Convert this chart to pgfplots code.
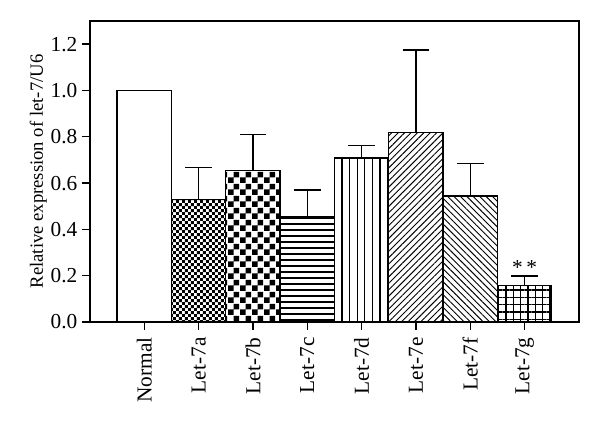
\documentclass[border=0pt]{standalone}
\usepackage{fontspec}
\setmainfont{Liberation Serif}
\usepackage{pgfplots}
\pgfplotsset{compat=1.18}
\usetikzlibrary{patterns,patterns.meta}

% checkerboards of two sizes
\pgfdeclarepatternformonly{checkfine}{\pgfpointorigin}{\pgfpoint{4.4pt}{4.4pt}}{\pgfpoint{4.4pt}{4.4pt}}{%
  \pgfpathrectangle{\pgfpointorigin}{\pgfpoint{2.2pt}{2.2pt}}%
  \pgfpathrectangle{\pgfpoint{2.2pt}{2.2pt}}{\pgfpoint{2.2pt}{2.2pt}}%
  \pgfusepath{fill}}
\pgfdeclarepatternformonly{checkcoarse}{\pgfpointorigin}{\pgfpoint{9pt}{9pt}}{\pgfpoint{9pt}{9pt}}{%
  \pgfpathrectangle{\pgfpointorigin}{\pgfpoint{4.5pt}{4.5pt}}%
  \pgfpathrectangle{\pgfpoint{4.5pt}{4.5pt}}{\pgfpoint{4.5pt}{4.5pt}}%
  \pgfusepath{fill}}

\begin{document}
\begin{tikzpicture}
  \begin{axis}[
    scale only axis,
    width=366.75pt, height=225.75pt,
    xmin=-1, xmax=8, ymin=0, ymax=1.3,
    ybar, bar width=1, bar shift=0pt,
    axis line style={line width=1pt},
    tick style={line width=1pt, black},
    major tick length=6pt,
    tick align=outside, tick pos=left,
    xtick={0,...,7},
    xticklabels={Normal,Let-7a,Let-7b,Let-7c,Let-7d,Let-7e,Let-7f,Let-7g},
    x tick label style={rotate=90, anchor=east, xshift=-2pt},
    ytick={0,0.2,...,1.2},
    yticklabel style={/pgf/number format/.cd, fixed, fixed zerofill, precision=1},
    /pgf/number format/assume math mode=true,
    tick label style={font=\fontsize{16}{18}\selectfont},
    ylabel={Relative expression of let-7/U6},
    ylabel style={font=\fontsize{14}{16}\selectfont, yshift=-4pt},
    every axis plot/.append style={draw=black, line width=1pt},
    error bars/y dir=plus, error bars/y explicit,
    error bars/error mark options={rotate=90, mark size=10pt, line width=1.1pt},
    error bars/error bar style={line width=1.1pt},
  ]
    \addplot[fill=white] coordinates {(0,1.0)};
    \addplot[pattern=checkfine] coordinates {(1,0.530) +- (0,0.138)};
    \addplot[pattern=checkcoarse] coordinates {(2,0.653) +- (0,0.157)};
    \addplot[pattern={Lines[angle=0,distance=4.5pt,line width=0.8pt]}] coordinates {(3,0.453) +- (0,0.118)};
    \addplot[pattern={Lines[angle=90,distance=5.7pt,line width=0.8pt]}] coordinates {(4,0.709) +- (0,0.053)};
    \addplot[pattern={Lines[angle=45,distance=3.4pt,line width=0.7pt]}] coordinates {(5,0.819) +- (0,0.355)};
    \addplot[pattern={Lines[angle=-45,distance=3.4pt,line width=0.7pt]}] coordinates {(6,0.544) +- (0,0.141)};
    \addplot[pattern={Hatch[angle=0,distance=5.5pt,line width=0.8pt]}] coordinates {(7,0.157) +- (0,0.042)};
    \node[anchor=south, font=\fontsize{16}{18}\selectfont, inner sep=1pt] at (axis cs:7,0.20) {*\,*};
  \end{axis}
  \path (-67.5pt,-75pt) rectangle (382.5pt,241.5pt);
\end{tikzpicture}
\end{document}
